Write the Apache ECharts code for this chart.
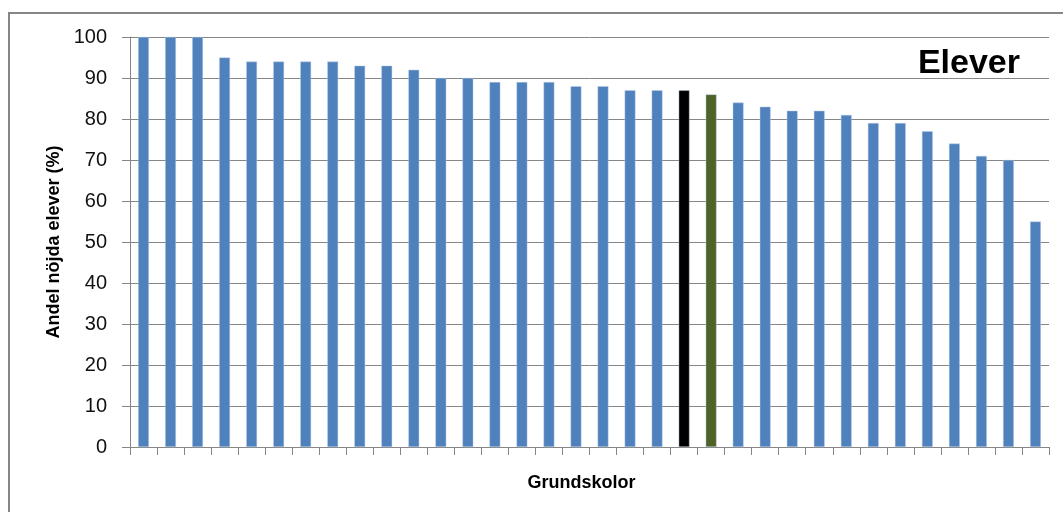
<!DOCTYPE html>
<html>
<head>
<meta charset="utf-8">
<script src="https://cdn.jsdelivr.net/npm/echarts@6/dist/echarts.min.js"></script>
<style>
  html, body { margin: 0; padding: 0; background: #fff; }
  #chart { width: 1063px; height: 512px; }
</style>
</head>
<body>
<div id="chart"></div>
<script>
// ---- data ----
const schools = ['S01','S02','S03','S04','S05','S06','S07','S08','S09','S10','S11','S12','S13','S14','S15','S16','S17','S18','S19','S20','S21','S22','S23','S24','S25','S26','S27','S28','S29','S30','S31','S32','S33','S34'];
const satisfied = [100,100,100,95,94,94,94,94,93,93,92,90,90,89,89,89,88,88,87,87,87,86,84,83,82,82,81,79,79,77,74,71,70,55];
const yTicks = [0,10,20,30,40,50,60,70,80,90,100];
const titleText = 'Elever';
const xName = 'Grundskolor';
const yName = 'Andel nöjda elever (%)';
const highlightIndex = { black: 20, green: 21 };

// ---- chart ----
const FONT = 'Liberation Sans';
const GRAY = '#868686';
const barColor = function (p) {
  if (p.dataIndex === highlightIndex.black) return '#000000';
  if (p.dataIndex === highlightIndex.green) return '#4F6228';
  return '#4F81BD';
};
const chart = echarts.init(document.getElementById('chart'), null, { renderer: 'canvas' });
chart.setOption({
  animation: false,
  backgroundColor: '#ffffff',
  textStyle: { fontFamily: FONT },
  title: {
    text: titleText,
    right: 38,
    top: 42,
    textStyle: { fontFamily: FONT, fontSize: 34, fontWeight: 'bold', color: '#000' }
  },
  graphic: [{
    type: 'rect',
    shape: { x: 9, y: 13, width: 1200, height: 700 },
    style: { fill: 'none', stroke: GRAY, lineWidth: 2 },
    silent: true,
    z: -1
  }],
  grid: { left: 130, right: 14, top: 37, bottom: 65, containLabel: false },
  xAxis: {
    type: 'category',
    data: schools,
    name: xName,
    nameLocation: 'middle',
    nameGap: 27,
    nameTextStyle: { fontFamily: FONT, fontSize: 18, fontWeight: 'bold', color: '#000', padding: [0, 16, 0, 0] },
    axisLine: { show: true, lineStyle: { color: GRAY, width: 1 } },
    axisTick: { show: true, length: 8, lineStyle: { color: GRAY }, alignWithLabel: false, interval: 0 },
    axisLabel: { show: false },
    splitLine: { show: false }
  },
  yAxis: {
    type: 'value',
    min: yTicks[0],
    max: yTicks[yTicks.length - 1],
    interval: yTicks[1] - yTicks[0],
    name: yName,
    nameLocation: 'middle',
    nameGap: 64,
    nameRotate: 90,
    nameTextStyle: { fontFamily: FONT, fontSize: 18, fontWeight: 'bold', color: '#000' },
    axisLine: { show: true, lineStyle: { color: GRAY, width: 1 } },
    axisTick: { show: true, length: 8, lineStyle: { color: GRAY } },
    axisLabel: { margin: 23, fontFamily: FONT, fontSize: 20, color: '#111' },
    splitLine: { show: true, lineStyle: { color: GRAY, width: 1 } }
  },
  series: [{
    type: 'bar',
    data: satisfied,
    barWidth: '40%',
    itemStyle: {
      color: barColor,
      borderColor: 'rgba(185,205,229,0.9)',
      borderWidth: 0.5
    }
  }]
});
</script>
</body>
</html>
